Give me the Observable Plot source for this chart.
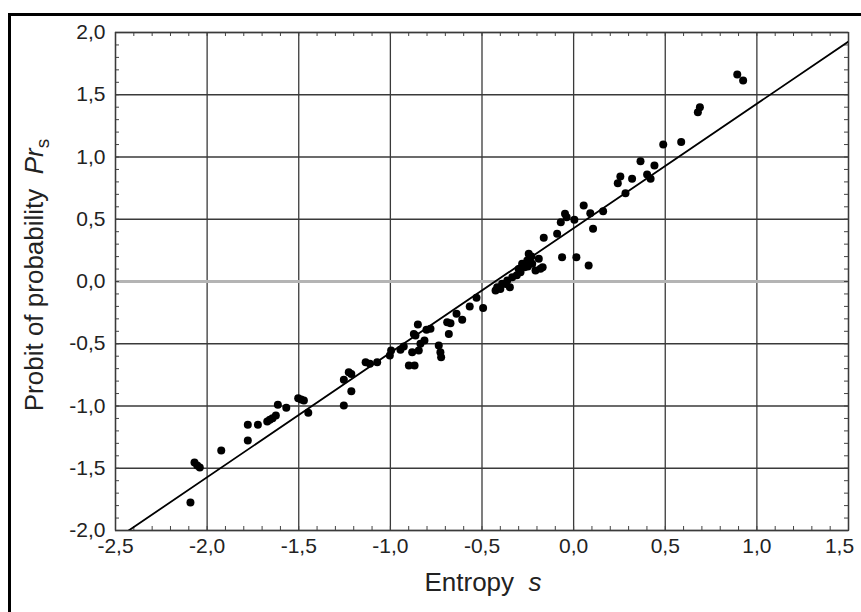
<!DOCTYPE html>
<html>
<head>
<meta charset="utf-8">
<script src="https://cdn.jsdelivr.net/npm/d3@7"></script>
<script src="https://cdn.jsdelivr.net/npm/@observablehq/plot@0.6"></script>
<style>
html, body { margin: 0; padding: 0; background: #fff; overflow: hidden; }
#wrap { position: relative; width: 861px; height: 612px; overflow: hidden; }
#wrap svg { position: absolute; left: 0; top: 0; }
#border { position: absolute; left: 8px; top: 13px; width: 900px; height: 700px; border: 3px solid #000; pointer-events: none; }
</style>
</head>
<body>
<div id="wrap"><div id="border"></div></div>
<script>
// Entropy s (x) and probit of probability Pr_s (y)
const entropy = [
  -2.091, -2.069, -2.054, -2.040, -1.923, -1.778, -1.778, -1.723, -1.672, -1.658,
  -1.643, -1.625, -1.614, -1.568, -1.503, -1.487, -1.472, -1.448, -1.254, -1.254,
  -1.227, -1.213, -1.213, -1.135, -1.112, -1.072, -1.003, -0.996, -0.945, -0.927,
  -0.899, -0.868, -0.881, -0.863, -0.850, -0.872, -0.845, -0.836, -0.814, -0.803,
  -0.781, -0.736, -0.727, -0.723, -0.681, -0.690, -0.672, -0.639, -0.608, -0.567,
  -0.530, -0.494, -0.426, -0.417, -0.390, -0.362, -0.348, -0.335, -0.290, -0.268,
  -0.253, -0.245, -0.226, -0.208, -0.190, -0.181, -0.163, -0.090, -0.063, -0.281,
  -0.169, -0.070, -0.047, -0.038, 0.004, 0.015, 0.082, 0.055, 0.091, 0.106,
  0.161, 0.241, 0.255, 0.319, 0.283, 0.365, 0.401, 0.420, 0.441, 0.489,
  0.587, 0.678, 0.689, 0.893, 0.925, -0.400, -0.370, -0.310, -0.250, -0.230,
  -0.300
];
const probit = [
  -1.775, -1.454, -1.478, -1.494, -1.357, -1.277, -1.151, -1.151, -1.124, -1.111,
  -1.098, -1.076, -0.990, -1.015, -0.937, -0.948, -0.956, -1.055, -0.996, -0.790,
  -0.728, -0.742, -0.881, -0.648, -0.661, -0.648, -0.594, -0.554, -0.549, -0.522,
  -0.675, -0.675, -0.568, -0.434, -0.345, -0.421, -0.554, -0.500, -0.474, -0.388,
  -0.380, -0.514, -0.568, -0.608, -0.421, -0.327, -0.335, -0.260, -0.308, -0.201,
  -0.131, -0.212, -0.072, -0.046, -0.018, 0.008, -0.046, 0.034, 0.075, 0.115,
  0.169, 0.222, 0.142, 0.088, 0.182, 0.102, 0.351, 0.383, 0.195, 0.142,
  0.115, 0.476, 0.544, 0.517, 0.496, 0.195, 0.128, 0.610, 0.549, 0.423,
  0.565, 0.790, 0.843, 0.825, 0.709, 0.966, 0.859, 0.825, 0.932, 1.100,
  1.120, 1.360, 1.400, 1.663, 1.614, -0.060, -0.020, 0.050, 0.120, 0.200,
  0.100
];
// fitted straight line Pr = intercept + slope * s
const fitSlope = 1.0;
const fitIntercept = 0.428;
const fitS = [-2.5, 1.5];

const xTicks = [-2.5, -2.0, -1.5, -1.0, -0.5, 0.0, 0.5, 1.0, 1.5];
const yTicks = [-2.0, -1.5, -1.0, -0.5, 0.0, 0.5, 1.0, 1.5, 2.0];
const xMinor = d3.ticks(-2.5, 1.5, 40);
const yMinor = d3.ticks(-2.0, 2.0, 40);

const fmt = d => d.toFixed(1).replace(".", ",");
const pts = entropy.map((x, i) => ({x, y: probit[i]}));
const fit = fitS.map(x => ({x, y: fitIntercept + fitSlope * x}));

const W = 861, H = 612, mL = 115, mR = 13, mT = 32, mB = 82;
const pW = W - mL - mR, pH = H - mT - mB;
const font = "'Liberation Sans', Arial, sans-serif";
const lastX = xTicks[xTicks.length - 1];

const chart = Plot.plot({
  width: W, height: H,
  marginLeft: mL, marginRight: mR, marginTop: mT, marginBottom: mB,
  style: {fontFamily: font, background: "transparent", overflow: "visible"},
  x: {domain: [-2.5, 1.5]},
  y: {domain: [-2, 2]},
  marks: [
    Plot.ruleX(xTicks, {stroke: "#3a3a3a", strokeWidth: 1.3}),
    Plot.ruleY(yTicks.filter(d => d !== 0), {stroke: "#3a3a3a", strokeWidth: 1.3}),
    Plot.ruleY([0], {stroke: "#b4b4b4", strokeWidth: 3}),
    Plot.tickX(xMinor, {x: d => d, insetTop: pH - 4, stroke: "#444"}),
    Plot.tickX(xMinor, {x: d => d, insetBottom: pH - 4, stroke: "#444"}),
    Plot.tickY(yMinor, {y: d => d, insetRight: pW - 4, stroke: "#444"}),
    Plot.tickY(yMinor, {y: d => d, insetLeft: pW - 4, stroke: "#444"}),
    Plot.frame({stroke: "#3a3a3a", strokeWidth: 1.3}),
    Plot.line(fit, {x: "x", y: "y", stroke: "#000", strokeWidth: 1.8, clip: true}),
    Plot.dot(pts, {x: "x", y: "y", r: 4, fill: "#000", stroke: "none"}),
    Plot.axisX(xTicks.filter(d => d !== lastX), {tickSize: 0, tickPadding: 8, tickFormat: fmt, fontSize: 21, fill: "#222", label: null}),
    Plot.axisX([lastX], {tickSize: 0, tickPadding: 8, tickFormat: fmt, fontSize: 21, fill: "#222", label: null, dx: -9}),
    Plot.axisY(yTicks, {tickSize: 0, tickPadding: 10, tickFormat: fmt, fontSize: 21, fill: "#222", label: null})
  ]
});
document.getElementById("wrap").prepend(chart);

const svg = d3.select(chart);
const xt = svg.append("text")
  .attr("x", 483).attr("y", 591)
  .attr("text-anchor", "middle")
  .attr("font-family", font).attr("font-size", 26).attr("fill", "#222");
xt.append("tspan").text("Entropy  ");
xt.append("tspan").attr("font-style", "italic").text("s");

const yt = svg.append("text")
  .attr("transform", "translate(43,275) rotate(-90)")
  .attr("text-anchor", "middle")
  .attr("font-family", font).attr("font-size", 26).attr("fill", "#222");
yt.append("tspan").text("Probit of probability  ");
yt.append("tspan").attr("font-style", "italic").text("Pr");
yt.append("tspan").attr("font-size", 19).attr("dy", 6).text("s");
</script>
</body>
</html>
